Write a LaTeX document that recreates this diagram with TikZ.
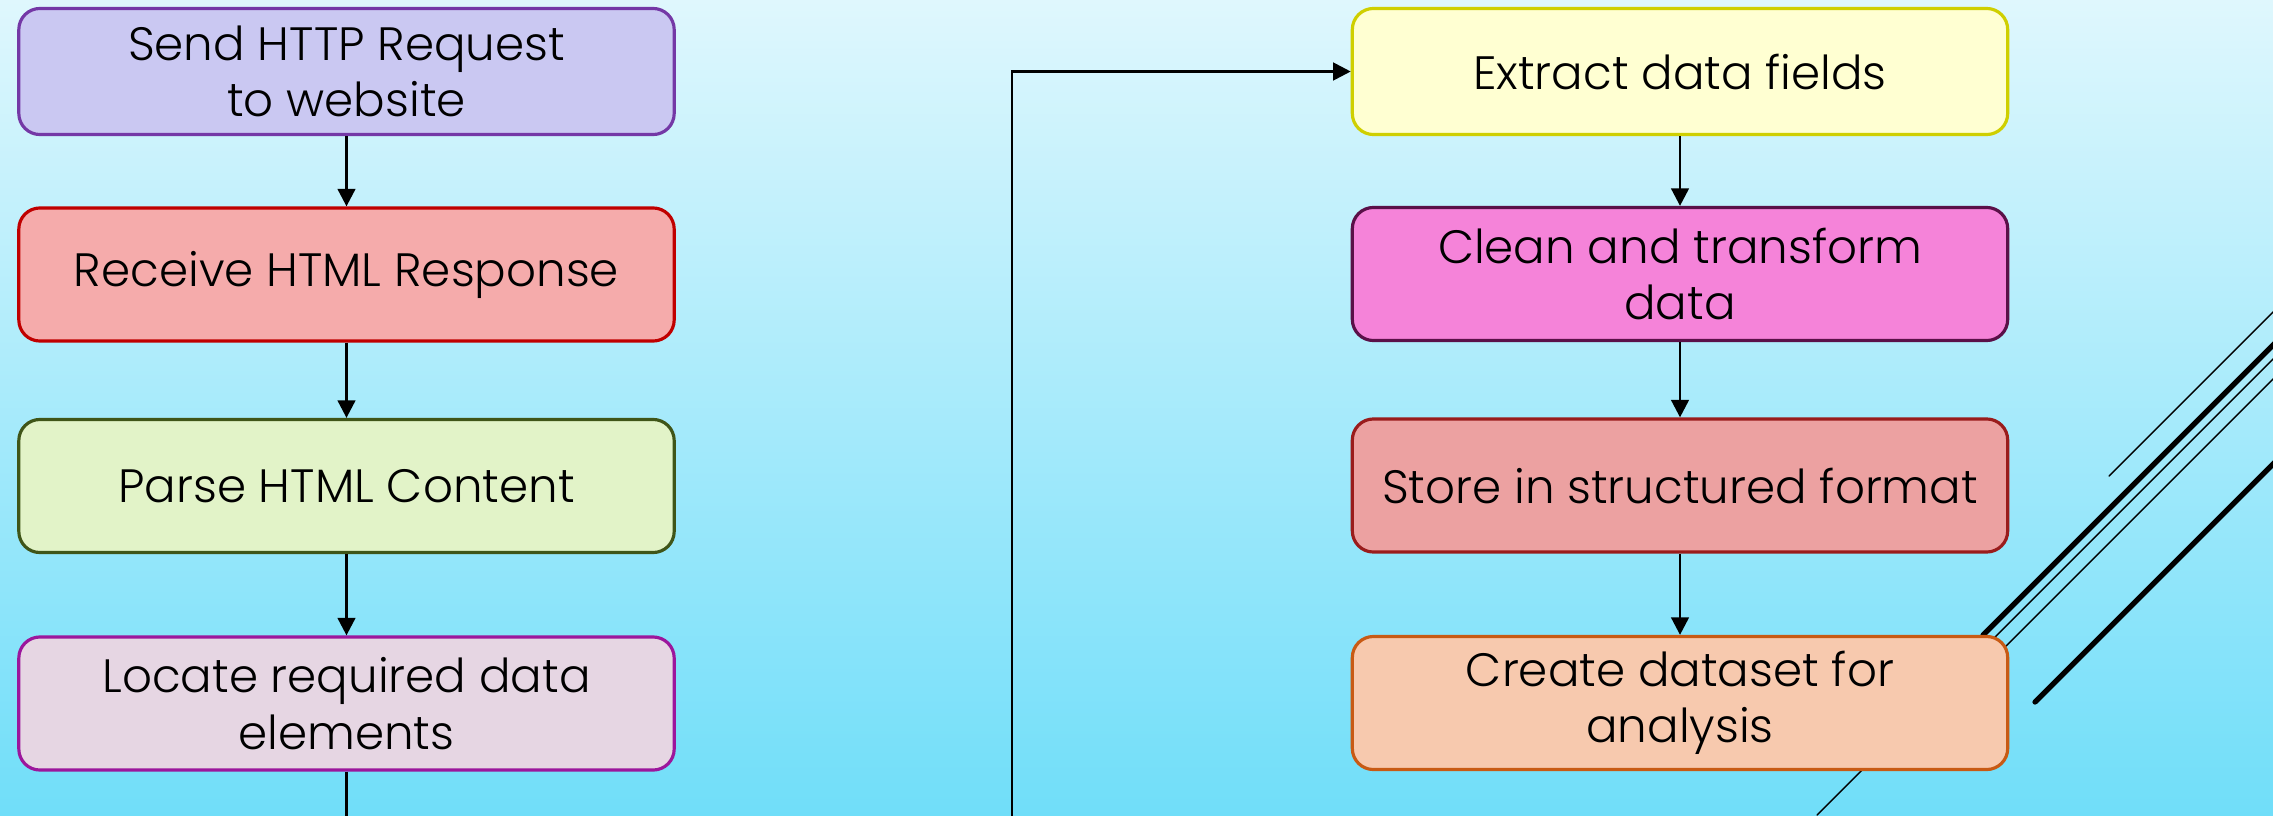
\documentclass[tikz,border=0pt]{standalone}
\usepackage{fontspec}
\setmainfont{Poppins}[UprightFont=* Light]
\usetikzlibrary{arrows.meta}

\definecolor{bgtop}{HTML}{DFF7FD}
\definecolor{bgbot}{HTML}{70DEF9}
\definecolor{sendfill}{HTML}{CAC8F2}   \definecolor{senddraw}{HTML}{7438A6}
\definecolor{recvfill}{HTML}{F5ABAB}   \definecolor{recvdraw}{HTML}{C00000}
\definecolor{parsefill}{HTML}{E2F3C8}  \definecolor{parsedraw}{HTML}{3F5518}
\definecolor{locfill}{HTML}{E6D6E3}    \definecolor{locdraw}{HTML}{9C169C}
\definecolor{extrfill}{HTML}{FFFFD2}   \definecolor{extrdraw}{HTML}{CFCF00}
\definecolor{cleanfill}{HTML}{F583D9}  \definecolor{cleandraw}{HTML}{5A1048}
\definecolor{storefill}{HTML}{ECA1A1}  \definecolor{storedraw}{HTML}{9A1C1C}
\definecolor{createfill}{HTML}{F7C9AE} \definecolor{createdraw}{HTML}{C85A14}

\begin{document}
\begin{tikzpicture}[x=0.01cm,y=-0.01cm,
    box/.style={draw, line width=0.9pt, rounded corners=6pt, minimum width=6.55cm,
      minimum height=1.33cm, align=center, inner sep=2pt,
      font=\fontsize{13.3}{16}\selectfont},
    flow/.style={line width=0.8pt, -{Triangle[length=5pt,width=5pt]}},
    slash/.style={line width=0.4pt, line cap=round}]

  \clip (0,0) rectangle (2273,815);
  \shade[top color=bgtop, bottom color=bgbot] (0,0) rectangle (2273,815);

  % slanted lines at the right edge
  \draw[slash] (2109,476) -- (2300,285);
  \draw[slash, line width=1.5pt] (1983,635) -- (2300,318);
  \draw[slash] (1817,815) -- (2300,332);
  \draw[slash] (2006,646) -- (2300,352);
  \draw[slash, line width=1.5pt] (2035,702) -- (2300,437);

  % left column
  \node[box, fill=sendfill, draw=senddraw, minimum height=1.26cm] (send) at (346.5,71.5) {Send HTTP Request\\to website};
  \node[box, fill=recvfill, draw=recvdraw] (recv) at (346.5,274.5) {Receive HTML Response};
  \node[box, fill=parsefill, draw=parsedraw] (parse) at (346.5,486) {Parse HTML Content};
  \node[box, fill=locfill, draw=locdraw] (locate) at (346.5,703.5) {Locate required data\\elements};

  % right column
  \node[box, fill=extrfill, draw=extrdraw, minimum height=1.26cm] (extract) at (1680,71.5) {Extract data fields};
  \node[box, fill=cleanfill, draw=cleandraw] (clean) at (1680,274) {Clean and transform\\data};
  \node[box, fill=storefill, draw=storedraw] (store) at (1680,485.5) {Store in structured format};
  \node[box, fill=createfill, draw=createdraw] (create) at (1680,703) {Create dataset for\\analysis};

  \foreach \a/\b in {send/recv, recv/parse, parse/locate, extract/clean, clean/store, store/create}
    \draw[flow] (\a) -- (\b);

  % jump to the second column
  \coordinate (turn) at (1012,900);
  \draw[flow] (locate.south) |- (turn) |- (extract.west);
\end{tikzpicture}
\end{document}
